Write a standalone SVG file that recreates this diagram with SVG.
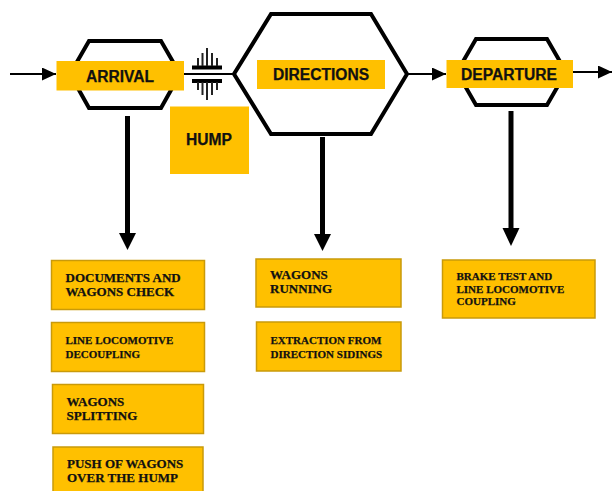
<svg xmlns="http://www.w3.org/2000/svg" width="612" height="491" viewBox="0 0 612 491">
<style>
.hex{fill:#fff;stroke:#000;stroke-width:4;stroke-linejoin:miter}
.ban{fill:#ffc000}
.box{fill:#ffc000;stroke:#c99a0a;stroke-width:1.5}
.h{font:bold 15.6px "Liberation Sans",Arial,sans-serif;fill:#111;text-anchor:middle;stroke:#111;stroke-width:.25}
.t{font:bold 13px "Liberation Serif","Times New Roman",serif;fill:#111;stroke:#111;stroke-width:.25}
.s{font-size:11px}
.thin{fill:none;stroke:#000;stroke-width:2}
.thick{fill:none;stroke:#000;stroke-width:5}
.mid{fill:none;stroke:#222;stroke-width:2}
</style>
<defs>
<marker id="sm" markerUnits="userSpaceOnUse" markerWidth="14" markerHeight="13" refX="14" refY="6.500" orient="auto"><path d="M0 0L14 6.500L0 13Z" fill="#000"/></marker>
</defs>
<g id="connectors">
<path class="thin" d="M10 74H56" marker-end="url(#sm)"/>
<path class="thin" d="M184 74H233"/>
<path class="thin" d="M408 74H446" marker-end="url(#sm)"/>
<path class="thin" d="M573 72H612" marker-end="url(#sm)"/>
<path class="thick" d="M127.500 116V235"/><path d="M119 233H136L127.500 250Z"/>
<path class="thick" d="M322.500 137V236"/><path d="M314 234H331L322.500 251Z"/>
<path class="thick" d="M511 111V230"/><path d="M502.500 228H519.500L511 246Z"/>
</g>
<g id="hump-symbol">
<path d="M192 67.500H222M192 81H222" stroke="#000" stroke-width="4" fill="none"/>
<path class="mid" d="M207 48V66M198 58V66M202.500 53V66M212 53V66M217 58V66M207 82V100M198 82V90M202.500 82V95M212 82V95M217 82V90"/>
</g>
<g id="arrival"><path class="hex" d="M89 41H161L180 74L161 108H89L70 74Z"/><rect class="ban" x="56.500" y="61" width="127.500" height="29.500"/><text class="h" x="120" y="82">ARRIVAL</text></g>
<g id="hump"><rect class="ban" x="170" y="106.500" width="79" height="67.500"/><text class="h" x="209" y="145">HUMP</text></g>
<g id="directions"><path class="hex" d="M271 14H371L407 74L371 134H271L234 74Z"/><rect class="ban" x="257" y="60" width="128" height="29"/><text class="h" x="321" y="80">DIRECTIONS</text></g>
<g id="departure"><path class="hex" d="M476 39H547L566 72L547 105H476L457 72Z"/><rect class="ban" x="446.500" y="60" width="126.500" height="28"/><text class="h" x="509" y="80">DEPARTURE</text></g>
<g id="documents"><rect class="box" x="51.500" y="260.500" width="153" height="49"/><text class="t" x="65.500" y="281.500">DOCUMENTS AND</text><text class="t" x="65.500" y="295.500">WAGONS CHECK</text></g>
<g id="decoupling"><rect class="box" x="51.500" y="322.500" width="153" height="49"/><text class="t s" x="65.500" y="343.500">LINE LOCOMOTIVE</text><text class="t s" x="65.500" y="358">DECOUPLING</text></g>
<g id="splitting"><rect class="box" x="52.500" y="384.500" width="151" height="49"/><text class="t" x="66.500" y="405.500">WAGONS</text><text class="t" x="66.500" y="419.500">SPLITTING</text></g>
<g id="push"><rect class="box" x="53" y="447" width="150" height="50"/><text class="t" x="67" y="467.500">PUSH OF WAGONS</text><text class="t" x="67" y="482">OVER THE HUMP</text></g>
<g id="running"><rect class="box" x="256" y="259" width="145" height="48"/><text class="t" x="270" y="279">WAGONS</text><text class="t" x="270" y="293">RUNNING</text></g>
<g id="extraction"><rect class="box" x="256.500" y="322" width="144.500" height="49"/><text class="t s" x="270.500" y="344">EXTRACTION FROM</text><text class="t s" x="270.500" y="358">DIRECTION SIDINGS</text></g>
<g id="brake"><rect class="box" x="442.500" y="260" width="152.500" height="58"/><text class="t s" x="456.500" y="280">BRAKE TEST AND</text><text class="t s" x="456.500" y="293">LINE LOCOMOTIVE</text><text class="t s" x="456.500" y="305">COUPLING</text></g>
</svg>
